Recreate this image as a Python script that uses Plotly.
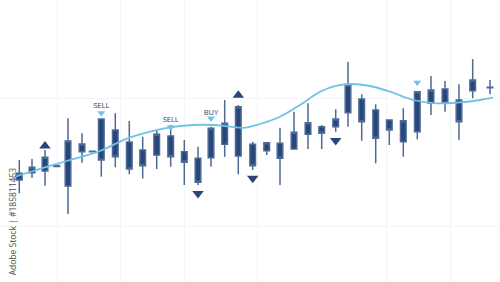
import plotly.graph_objects as go

# ---- data (x = time position, prices in chart units) ----
pos   = [19.3, 32, 45, 56.7, 68, 82, 92.3, 101.3, 115.3, 129.3, 142.7, 156.7, 170.7, 184.3, 198, 211,
         224.7, 238.3, 252.7, 266.7, 280, 294, 308, 321.7, 335.7, 348, 361.7, 375.7, 389.3, 403.3,
         417.3, 431, 445, 459, 472.7, 490]
open_ = [102, 109.3, 111, 116.5, 96, 130.3, 130.8, 163, 152, 140, 132, 127, 146, 130.3, 123.7, 124.3,
         137.7, 126, 137.7, 131.3, 138.7, 133, 147.7, 155.3, 155.3, 169.3, 183, 172, 162, 140.3,
         150.3, 178.7, 193, 182, 191.3, 194.7]
close = [108.7, 114.7, 124.7, 115.5, 141, 138, 130.3, 122, 125.3, 113, 116.3, 147.7, 125.3, 119.7, 99.7, 153.7,
         158.7, 175.3, 116.3, 139.3, 123.7, 149.7, 159.3, 148.7, 163, 197, 160.3, 143.7, 152, 161.3,
         190.3, 192, 178.7, 160.3, 202, 194.2]
high  = [122, 123, 132, 116.5, 163.7, 148.7, 130.8, 163, 168.7, 161, 145.3, 152, 157, 142, 135.3, 155.3,
         182, 177, 140.3, 139.3, 154.3, 170.3, 178.7, 157, 172.7, 220, 187.7, 177.7, 162, 173.7,
         190.3, 206, 201, 197.7, 223, 202]
low   = [88.7, 104.3, 96.3, 115.5, 68, 119.3, 130.3, 105.3, 114.7, 107.7, 103.5, 113, 115.3, 97, 97, 115.3,
         125.3, 107.7, 112, 127, 97, 133, 133, 133, 150.3, 155.3, 141.3, 118.7, 137, 125.3,
         142.7, 167, 170.3, 142, 183.7, 187.7]

ma_x = [12, 33, 66.7, 100, 125, 140, 170, 193, 213, 230, 245, 260, 280, 300, 320, 336.7, 350,
        370, 390, 413, 436.7, 456.7, 480, 493]
ma_y = [104, 111, 121, 131, 142.7, 147.7, 154.7, 157, 157, 155.3, 154.3, 158, 165.3, 177, 190.3, 196.3, 198,
        196, 190.3, 182, 178.7, 179.3, 182, 184.3]

sig_x     = [101.3, 170.7, 211]
sig_y     = [169, 155, 163.7]
sig_label = ["SELL", "SELL", "BUY"]
sig_text_y = [175.5, 162, 169]

up_x   = [45, 238.3]
up_y   = [136, 186.7]
down_x = [198, 252.7, 335.7]
down_y = [88.5, 103.7, 141.5]
hint_x = [417.3]
hint_y = [199.5]

grid_x = [57, 120, 184, 257, 386, 450]
grid_y = [56, 184]

NAVY = "#27477a"
WICK = "#4d6a94"
LIGHT = "#6fc3e4"

fig = go.Figure()

fig.add_trace(go.Candlestick(
    x=pos, open=open_, high=high, low=low, close=close,
    increasing=dict(fillcolor=NAVY, line=dict(color=WICK, width=1.5)),
    decreasing=dict(fillcolor=NAVY, line=dict(color=WICK, width=1.5)),
    whiskerwidth=0, showlegend=False, hoverinfo="skip",
))

fig.add_trace(go.Scatter(
    x=ma_x, y=ma_y, mode="lines", line=dict(color=LIGHT, width=1.8, shape="spline", smoothing=1.0),
    showlegend=False, hoverinfo="skip",
))

fig.add_trace(go.Scatter(
    x=sig_x, y=sig_y, mode="markers",
    marker=dict(symbol="triangle-down", size=7, color=LIGHT),
    showlegend=False, hoverinfo="skip",
))
fig.add_trace(go.Scatter(
    x=hint_x, y=hint_y, mode="markers",
    marker=dict(symbol="triangle-down", size=7, color=LIGHT),
    showlegend=False, hoverinfo="skip",
))
fig.add_trace(go.Scatter(
    x=sig_x, y=sig_text_y, mode="text", text=sig_label,
    textfont=dict(family="Open Sans", size=7.5, color="#2f3e55"),
    showlegend=False, hoverinfo="skip",
))
fig.add_trace(go.Scatter(
    x=up_x, y=up_y, mode="markers",
    marker=dict(symbol="triangle-up", size=10, color=NAVY),
    showlegend=False, hoverinfo="skip",
))
fig.add_trace(go.Scatter(
    x=down_x, y=down_y, mode="markers",
    marker=dict(symbol="triangle-down", size=10, color=NAVY),
    showlegend=False, hoverinfo="skip",
))

fig.add_annotation(
    text="Adobe Stock | #185811453", textangle=-90, showarrow=False,
    xref="paper", yref="paper", x=0.024, y=0.215, xanchor="center", yanchor="middle",
    font=dict(family="Open Sans", size=8.5, color="#4a4a4a"),
)

fig.update_layout(
    width=500, height=282, margin=dict(l=0, r=0, t=0, b=0),
    paper_bgcolor="white", plot_bgcolor="white",
    boxgap=0.11,
    xaxis=dict(range=[0, 500], rangeslider=dict(visible=False), showticklabels=False,
               tickvals=grid_x, showgrid=True, gridcolor="#f4f5f7", gridwidth=1,
               zeroline=False, showline=False, ticks=""),
    yaxis=dict(range=[0, 282], showticklabels=False, tickvals=grid_y, showgrid=True,
               gridcolor="#f4f5f7", gridwidth=1, zeroline=False, showline=False, ticks=""),
)

fig.write_html("out.html")
